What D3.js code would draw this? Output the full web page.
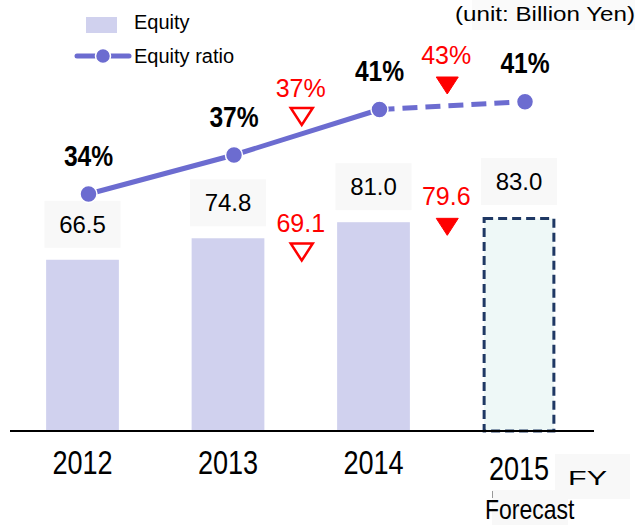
<!DOCTYPE html>
<html>
<head>
<meta charset="utf-8">
<script src="https://cdn.jsdelivr.net/npm/d3@7"></script>
<style>
  body { margin: 0; background: #fff; }
  svg { display: block; }
  text { font-family: "Liberation Sans", Arial, sans-serif; }
</style>
</head>
<body>
<div id="chart"></div>
<script>
// ---- data ----
var years = ["2012", "2013", "2014", "2015"];
var equity = [66.5, 74.8, 81.0, 83.0];
var equityRatio = [34.2, 37.2, 40.7, 41.3];
var planYears = ["2013", "2014"];
var planEquity = [69.1, 79.6];
var planRatio = [37, 43];

var width = 638, height = 525;
var lineColor = "#6c6cd0", barColor = "#d0d1ee", red = "#ff0000";

var svg = d3.select("#chart").append("svg")
    .attr("width", width)
    .attr("height", height);

var baseY = 431;

var x = d3.scaleBand()
    .domain(years)
    .range([9.75, 591.75])
    .paddingInner(0.5)
    .paddingOuter(0.25);

var y = d3.scaleLinear().domain([0, 100]).range([baseY + 1, baseY + 1 - 259]);
var ratioY = d3.scaleLinear().domain([30, 45]).range([248.6, 53.6]);
// plan-ratio markers sit on their own band above the line
var planRatioY = d3.scaleLinear().domain([37, 43]).range([127, 94]);

var bw = x.bandwidth();
function planX(c) { return x(c) + bw + (x.step() - bw) / 2; }
function pointX(c) { return x(c) + bw / 2 + 6; }
var isForecast = function(i) { return i === years.length - 1; };

// no narrow font installed: squeeze the glyphs instead
function narrow(sel) {
    sel.each(function() {
        var w = this.getComputedTextLength();
        d3.select(this).attr("textLength", w * 0.82).attr("lengthAdjust", "spacingAndGlyphs");
    });
}

// bars
svg.append("g").selectAll("rect")
    .data(equity)
    .enter().append("rect")
    .attr("x", function(d, i) { return isForecast(i) ? x(years[i]) + 1.5 : x(years[i]); })
    .attr("y", function(d, i) { return isForecast(i) ? y(d) + 1.5 : y(d); })
    .attr("width", function(d, i) { return isForecast(i) ? bw - 3 : bw; })
    .attr("height", function(d, i) { return isForecast(i) ? y(0) - y(d) - 2.5 : y(0) - y(d); })
    .style("fill", function(d, i) { return isForecast(i) ? "#eef8f7" : barColor; })
    .style("stroke", function(d, i) { return isForecast(i) ? "#1f3864" : "none"; })
    .style("stroke-width", 3)
    .style("stroke-dasharray", "9,5");

// axis
var axis = svg.append("g")
    .attr("transform", "translate(0," + baseY + ")")
    .call(d3.axisBottom(x).tickSize(0).tickSizeOuter(0));
axis.select(".domain").style("stroke", "#000").style("stroke-width", 2)
    .attr("d", "M10,0H594");
axis.selectAll(".tick text")
    .attr("dy", null)
    .attr("y", function(d) { return d === "2015" ? 49 : 43; })
    .style("font-family", "'Liberation Sans', Arial, sans-serif")
    .style("font-size", "33px")
    .style("fill", "#000")
    .call(narrow);

// value labels with light boxes
var vl = svg.append("g").selectAll("g")
    .data(equity)
    .enter().append("g")
    .attr("transform", function(d, i) {
        return "translate(" + (x(years[i]) + bw / 2) + "," + (y(d) - 27) + ")";
    });
vl.append("rect")
    .attr("x", -38).attr("y", -32)
    .attr("width", 76).attr("height", 47)
    .style("fill", "#f8f8f8");
vl.append("text")
    .attr("text-anchor", "middle")
    .style("font-size", "24px")
    .text(function(d) { return d3.format(".1f")(d); });

// equity ratio line
var pts = equityRatio.map(function(v, i) { return [pointX(years[i]), ratioY(v)]; });
var line = d3.line();
svg.append("path")
    .attr("d", line(pts.slice(0, 3)))
    .style("fill", "none").style("stroke", lineColor).style("stroke-width", 5);
svg.append("path")
    .attr("d", line(pts.slice(2)))
    .style("fill", "none").style("stroke", lineColor).style("stroke-width", 5)
    .style("stroke-dasharray", "15,8");
svg.append("g").selectAll("circle")
    .data(pts)
    .enter().append("circle")
    .attr("cx", function(d) { return d[0]; })
    .attr("cy", function(d) { return d[1]; })
    .attr("r", 8.5)
    .style("fill", lineColor)
    .style("stroke", "#fff")
    .style("stroke-width", 1.5);
svg.append("g").selectAll("text")
    .data(equityRatio)
    .enter().append("text")
    .attr("x", function(d, i) { return pointX(years[i]); })
    .attr("y", function(d) { return ratioY(d) - 28.5; })
    .attr("text-anchor", "middle")
    .style("font-size", "30px")
    .style("font-weight", "bold")
    .text(function(d) { return d3.format(".0f")(d) + "%"; })
    .call(narrow);

// plan markers (red)
function tri(cx, tip) {
    return "M" + (cx - 11) + "," + (tip - 17) + "L" + (cx + 11) + "," + (tip - 17) + "L" + cx + "," + tip + "Z";
}
function drawPlan(values, tipFn, fmt) {
    var g = svg.append("g").selectAll("g")
        .data(values)
        .enter().append("g");
    g.append("path")
        .attr("d", function(d, i) {
            var tip = tipFn(d);
            return i === 0 ? tri(planX(planYears[i]) + 1, tip - 2) : tri(planX(planYears[i]) + 1, tip);
        })
        .style("fill", function(d, i) { return i === 0 ? "none" : red; })
        .style("stroke", red)
        .style("stroke-width", function(d, i) { return i === 0 ? 2.5 : 1; });
    g.append("text")
        .attr("x", function(d, i) { return planX(planYears[i]); })
        .attr("y", function(d) { return tipFn(d) - 30.5; })
        .attr("text-anchor", "middle")
        .style("font-size", "25px")
        .style("fill", red)
        .text(fmt);
}
drawPlan(planEquity, function(d) { return y(d) + 9.5; }, d3.format(".1f"));
drawPlan(planRatio, function(d) { return planRatioY(d); }, function(d) { return d + "%"; });

// legend
var legend = svg.append("g");
legend.append("rect")
    .attr("x", 86).attr("y", 17).attr("width", 31).attr("height", 16)
    .style("fill", barColor);
legend.append("text").attr("x", 134).attr("y", 29)
    .style("font-size", "20px").text("Equity");
legend.append("line")
    .attr("x1", 77).attr("x2", 129).attr("y1", 56).attr("y2", 56)
    .style("stroke", lineColor).style("stroke-width", 5).style("stroke-linecap", "round");
legend.append("circle")
    .attr("cx", 103).attr("cy", 56).attr("r", 7.5)
    .style("fill", lineColor).style("stroke", "#fff").style("stroke-width", 1.5);
legend.append("text").attr("x", 134).attr("y", 63)
    .style("font-size", "20px").text("Equity ratio");

// unit note
svg.append("rect").attr("x", 472).attr("y", 0).attr("width", 163).attr("height", 30)
    .style("fill", "#fafafa");
svg.append("text").attr("x", 455).attr("y", 21)
    .attr("textLength", 180).attr("lengthAdjust", "spacingAndGlyphs")
    .style("font-size", "21px").text("(unit: Billion Yen)");

// FY / Forecast notes
svg.append("rect").attr("x", 555).attr("y", 454).attr("width", 75).attr("height", 45)
    .style("fill", "#f8f8f8");
svg.append("rect").attr("x", 492).attr("y", 490).attr("width", 76).attr("height", 35)
    .style("fill", "#f8f8f8");
svg.append("text").attr("x", 568).attr("y", 485)
    .attr("textLength", 39).attr("lengthAdjust", "spacingAndGlyphs")
    .style("font-size", "20px").text("FY");
svg.append("line").attr("x1", 492.5).attr("x2", 492.5).attr("y1", 491).attr("y2", 498)
    .style("stroke", "#999").style("stroke-width", 1);
svg.append("text").attr("x", 485).attr("y", 519)
    .style("font-size", "28px").text("Forecast")
    .call(narrow);
</script>
</body>
</html>
